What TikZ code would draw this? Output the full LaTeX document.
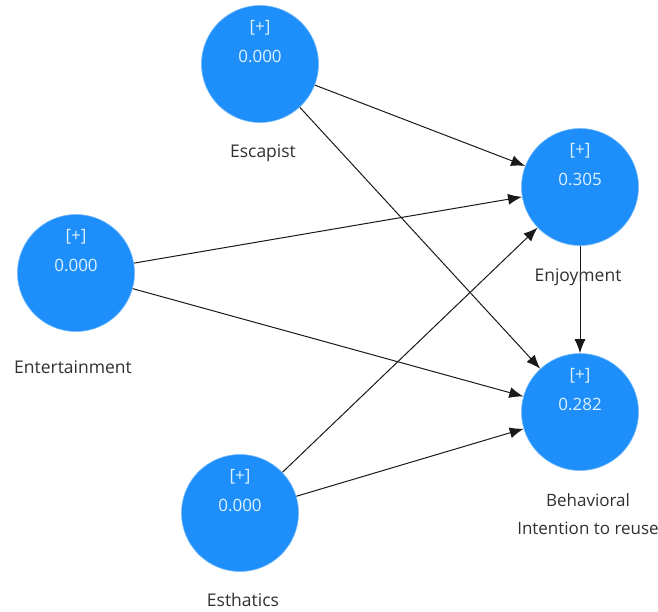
\documentclass[tikz,border=0pt]{standalone}
\usepackage{fontspec}
\setmainfont{Open Sans}
\usetikzlibrary{arrows.meta}
\definecolor{lvblue}{HTML}{1E8FFA}
\definecolor{lvtext}{HTML}{DDF0FF}
\definecolor{lbltext}{HTML}{303030}
\begin{document}
\begin{tikzpicture}[x=1pt, y=-1pt, >={Latex[length=14pt, width=11pt]},
  lv/.style={circle, fill=lvblue, draw=lvblue!60!white, line width=0.6pt, minimum size=117pt, inner sep=0pt},
  val/.style={align=center, text=lvtext, font=\fontsize{17}{30}\selectfont},
  lbl/.style={align=center, text=lbltext, font=\fontsize{17.5}{28}\selectfont},
  path/.style={->, draw=black!90, line width=1pt}]
\useasboundingbox (0,0) rectangle (658,611);

\node[lv] (esc) at (260,64) {};
\node[val] (esc-v) at ([yshift=22pt]esc.center) {[+]\\0.000};
\node[lbl] (esc-l) at (263,153) {Escapist};

\node[lv] (ent) at (76,273) {};
\node[val] (ent-v) at ([yshift=22pt]ent.center) {[+]\\0.000};
\node[lbl] (ent-l) at (73,367) {Entertainment};

\node[lv] (est) at (240,513) {};
\node[val] (est-v) at ([yshift=22pt]est.center) {[+]\\0.000};
\node[lbl] (est-l) at (243,600) {Esthatics};

\node[lv] (enj) at (580,187) {};
\node[val] (enj-v) at ([yshift=22pt]enj.center) {[+]\\0.305};

\node[lv] (bi) at (580,412) {};
\node[val] (bi-v) at ([yshift=22pt]bi.center) {[+]\\0.282};
\node[lbl, font=\fontsize{17}{28}\selectfont] (bi-l) at (588,514) {Behavioral\\Intention to reuse};

\draw[path] (esc) -- (enj);
\draw[path] (esc) -- (bi);
\draw[path] (ent) -- (enj);
\draw[path] (ent) -- (bi);
\draw[path] (est) -- (enj);
\draw[path] (est) -- (bi);
\draw[path] (enj) -- (bi);

% label drawn over the Enjoyment -> Behavioral line
\node[lbl] (enj-l) at (578,277) {Enjoyment};
\end{tikzpicture}
\end{document}
